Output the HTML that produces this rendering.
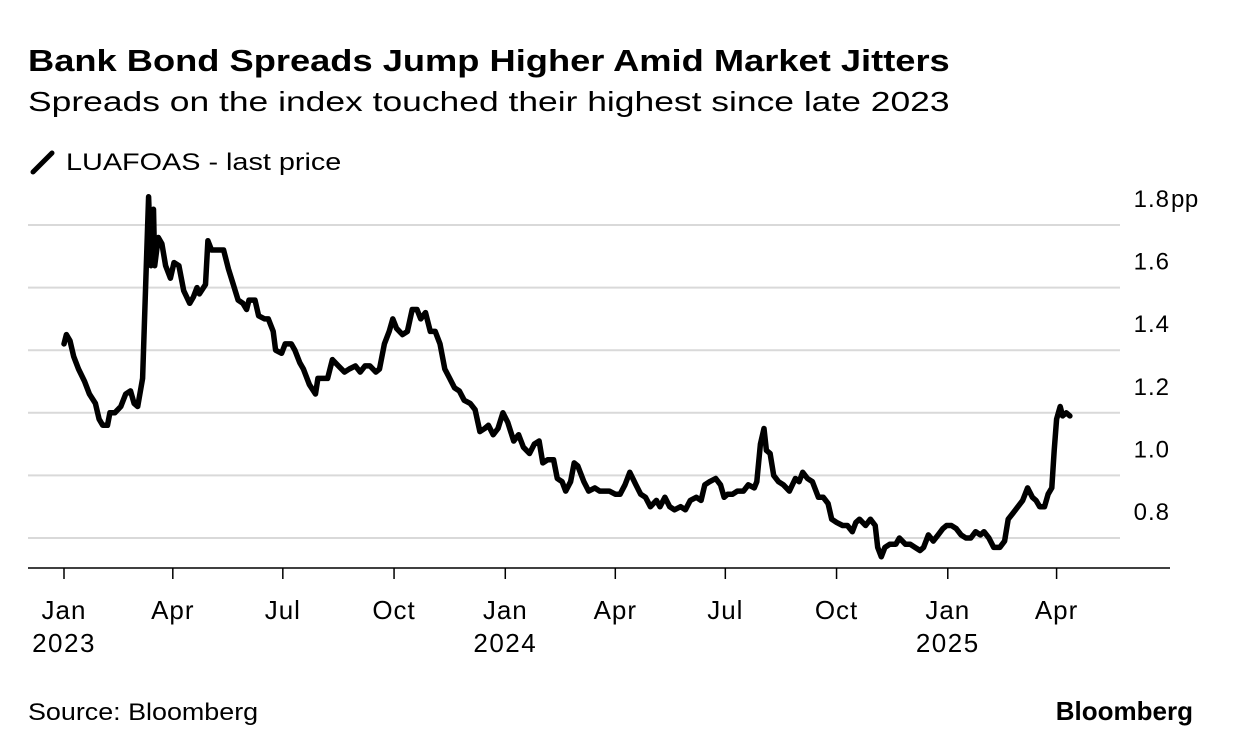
<!DOCTYPE html>
<html><head><meta charset="utf-8"><style>
body{margin:0;background:#fff;font-family:"Liberation Sans",sans-serif;color:#000}
#wrap{position:relative;width:1233px;height:754px;overflow:hidden}
.t{position:absolute;white-space:nowrap;transform-origin:left center}
</style></head><body>
<div id="wrap">
<div class="t" style="left:28px;top:43px;font-size:31px;font-weight:bold;transform:scaleX(1.17)">Bank Bond Spreads Jump Higher Amid Market Jitters</div>
<div class="t" style="left:28px;top:86px;font-size:28px;transform:scaleX(1.265)">Spreads on the index touched their highest since late 2023</div>
<svg width="26" height="26" style="position:absolute;left:30px;top:150px"><line x1="3" y1="22" x2="22" y2="3" stroke="#000" stroke-width="5" stroke-linecap="round"/></svg>
<div class="t" style="left:66px;top:149px;font-size:24px;transform:scaleX(1.2)">LUAFOAS - last price</div>
<svg id="chart" width="1233" height="754" style="position:absolute;left:0;top:0"></svg>
<div class="t" style="left:28px;top:699px;font-size:24px;transform:scaleX(1.12)">Source: Bloomberg</div>
<div class="t" style="right:40px;top:696px;font-size:26px;font-weight:bold;letter-spacing:0px">Bloomberg</div>
</div>
<script>
const days=[0,2,5,8,12,17,21,26,29,32,36,38,42,47,51,55,58,61,65,68,70,72,74,75,78,81,84,88,91,95,99,104,107,110,112,117,119,122,129,132,136,140,144,148,151,153,158,161,166,169,173,175,180,183,188,191,195,198,203,208,210,215,218,222,227,232,236,241,245,249,253,258,261,265,269,272,275,280,284,288,292,295,299,303,307,311,315,319,323,327,331,336,340,344,348,351,355,359,363,367,372,376,380,385,389,393,396,400,405,408,412,415,419,422,425,430,434,439,443,447,451,456,460,464,468,473,477,481,485,490,493,497,501,505,510,514,518,523,527,530,534,539,543,546,549,553,557,562,566,571,573,576,579,581,584,587,591,595,600,605,608,611,615,619,624,628,632,635,639,644,648,652,655,658,663,667,671,673,676,679,683,688,691,696,700,704,708,711,715,719,723,727,730,734,738,742,746,750,754,758,761,765,769,774,778,781,785,789,793,797,801,804,807,811,814,817,819,821,824,826,829,832];
const values=[1.42,1.45,1.43,1.38,1.34,1.30,1.26,1.23,1.18,1.16,1.16,1.20,1.20,1.22,1.26,1.27,1.23,1.22,1.31,1.66,1.89,1.67,1.85,1.67,1.76,1.74,1.67,1.63,1.68,1.67,1.59,1.55,1.57,1.60,1.58,1.61,1.75,1.72,1.72,1.72,1.66,1.61,1.56,1.55,1.53,1.56,1.56,1.51,1.50,1.50,1.46,1.40,1.39,1.42,1.42,1.40,1.36,1.34,1.29,1.26,1.31,1.31,1.31,1.37,1.35,1.33,1.34,1.35,1.33,1.35,1.35,1.33,1.34,1.42,1.46,1.50,1.47,1.45,1.46,1.53,1.53,1.50,1.52,1.46,1.46,1.42,1.34,1.31,1.28,1.27,1.24,1.23,1.21,1.14,1.15,1.16,1.13,1.15,1.20,1.17,1.11,1.13,1.09,1.07,1.10,1.11,1.04,1.05,1.05,0.99,0.98,0.95,0.98,1.04,1.03,0.98,0.95,0.96,0.95,0.95,0.95,0.94,0.94,0.97,1.01,0.97,0.94,0.93,0.90,0.92,0.90,0.93,0.90,0.89,0.90,0.89,0.92,0.93,0.92,0.97,0.98,0.99,0.97,0.93,0.94,0.94,0.95,0.95,0.97,0.96,0.98,1.10,1.15,1.08,1.07,1.00,0.98,0.97,0.95,0.99,0.98,1.01,0.99,0.98,0.93,0.93,0.91,0.86,0.85,0.84,0.84,0.82,0.85,0.86,0.84,0.86,0.84,0.77,0.74,0.77,0.78,0.78,0.80,0.78,0.78,0.77,0.76,0.77,0.81,0.79,0.81,0.83,0.84,0.84,0.83,0.81,0.80,0.80,0.82,0.81,0.82,0.80,0.77,0.77,0.79,0.86,0.88,0.90,0.92,0.96,0.93,0.92,0.90,0.90,0.94,0.96,1.08,1.18,1.22,1.19,1.20,1.19];
const yTicks=[0.8,1.0,1.2,1.4,1.6,1.8];
const yTickLabels=["0.8","1.0","1.2","1.4","1.6","1.8"];
const xTickDays=[0,90,181,273,365,456,547,639,731,821];
const xTickLabels=["Jan","Apr","Jul","Oct","Jan","Apr","Jul","Oct","Jan","Apr"];
const xYearLabels=["2023","","","","2024","","","","2025",""];
const NS="http://www.w3.org/2000/svg";
const svg=document.getElementById('chart');
function xs(d){return 64+d*1.209;}
function ys(v){return 225+(1.8-v)*313;}
function mk(t,a){const e=document.createElementNS(NS,t);for(const k in a)e.setAttribute(k,a[k]);svg.appendChild(e);return e;}
const FF='Liberation Sans, sans-serif';
yTicks.forEach((v,i)=>{
  const g=mk('line',{x1:28,x2:1120,y1:ys(v),y2:ys(v),stroke:'#d9d9d9','stroke-width':2});
  
  
  const t=mk('text',{x:1170,y:ys(v)-18,'font-size':24,'letter-spacing':1,'text-anchor':'end','font-family':FF});
  t.textContent=yTickLabels[i];
  
  
  if(i===yTicks.length-1){const p=mk('text',{x:1171,y:ys(v)-18,'font-size':24,'letter-spacing':0.5,'font-family':FF});p.textContent='pp';
  
  }
});
const ax=mk('line',{x1:28,x2:1170,y1:568,y2:568,stroke:'#000','stroke-width':1.5});


xTickDays.forEach((d,i)=>{
  const tk=mk('line',{x1:xs(d),x2:xs(d),y1:568,y2:579,stroke:'#000','stroke-width':1.5});
  
  
  const t=mk('text',{x:xs(d),y:619,'font-size':26,'letter-spacing':1,'text-anchor':'middle','font-family':FF});
  t.textContent=xTickLabels[i];
  
  
  if(xYearLabels[i]){const y=mk('text',{x:xs(d),y:652,'font-size':26,'letter-spacing':1.5,'text-anchor':'middle','font-family':FF});y.textContent=xYearLabels[i];
  
  }
});
const pts=days.map((d,i)=>xs(d).toFixed(1)+','+ys(values[i]).toFixed(1)).join(' ');
const ln=mk('polyline',{points:pts,fill:'none',stroke:'#000','stroke-width':5.5,'stroke-linejoin':'round','stroke-linecap':'round'});


</script>
</body></html>
